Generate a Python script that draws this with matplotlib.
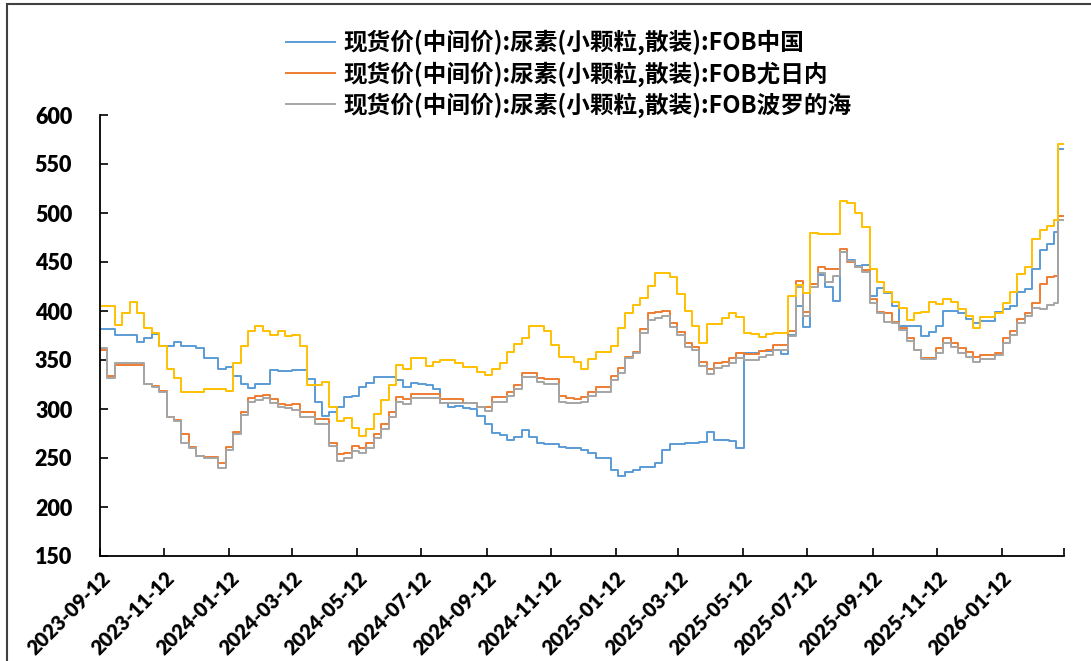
import matplotlib
matplotlib.use('Agg')
import matplotlib.pyplot as plt
import pandas as pd
from matplotlib.patches import Rectangle
from matplotlib.font_manager import FontProperties

plt.rcParams['font.family'] = ['Lato', 'Noto Sans CJK SC', 'DejaVu Sans']

# 周度数据, 2023-09-12 起; 最后两期为 2026-03-06 与 2026-03-11
dates = pd.date_range('2023-09-12', periods=130, freq='7D').append(
    pd.DatetimeIndex(['2026-03-06', '2026-03-11']))

fob_china = [
    382, 382, 376, 375.5, 375.5, 368, 372, 377, 364, 364,
    368, 364, 364, 362, 352, 352, 341, 343, 334, 325.5,
    321, 325.5, 325.5, 340, 339, 339, 340, 340, 331, 307.5,
    293, 297, 302, 312.6, 313.7, 322, 327, 333, 333, 333,
    330, 322, 327, 326, 324.5, 320, 306, 302, 303, 300.7,
    299.7, 293, 284.7, 275.8, 273.5, 268.4, 271.8, 278.6, 271.8, 265.6,
    264.3, 264.3, 261.6, 259.9, 259.9, 258.1, 255.4, 250.3, 250.3, 237.7,
    232, 235.4, 237.7, 241.1, 240.5, 245.2, 258, 264.3, 264.3, 265,
    265, 266, 276.8, 268.4, 268, 267.5, 260, 357.5, 357.5, 359.6,
    359.6, 360.3, 356.2, 375.6, 405.1, 384.1, 427.2, 436.8, 424.9, 410.6,
    460.6, 452.1, 446, 447, 415.3, 423.8, 418, 405.1, 385.1, 385.1,
    385.1, 375, 378.3, 385.1, 400.4, 400.4, 397.6, 392, 387.4, 390.2,
    390.2, 399.3, 402, 405.1, 419.7, 422.5, 442.5, 462.3, 468.4, 481,
    565, 565,
]

fob_yuzhny = [
    360, 334, 345, 345, 345, 345, 326, 323, 318, 292,
    289, 274.5, 261, 252, 250.7, 250.7, 245.3, 261, 277, 297,
    311, 313, 314.5, 310, 305, 304, 305, 297, 297, 290,
    290, 265, 253.6, 255, 262, 260, 265, 274.5, 285, 297,
    312.6, 310, 315, 315, 315, 315, 310, 310, 310, 306.5,
    306.5, 302.4, 302.4, 312.6, 312.6, 317.7, 324.5, 337, 337, 331.3,
    330.3, 330.3, 313.2, 311, 310, 312.6, 317.7, 322, 322, 333.6,
    341.5, 353.4, 358.5, 381.3, 397.6, 399.3, 400.3, 387.4, 379, 367.7,
    363.6, 348.3, 341, 347.3, 348.3, 351.7, 357.5, 356.2, 356.2, 359.6,
    360.3, 365.4, 365.4, 380, 430.6, 399.4, 427.6, 444.6, 442.6, 442.6,
    463.3, 450.4, 444.6, 442, 412, 399.3, 397.6, 389.1, 382.3, 372.1,
    360.2, 351.7, 351.7, 362.6, 372.1, 367.7, 361.9, 357.9, 353.4, 355.1,
    355.1, 357.5, 372.1, 380, 391.9, 398.3, 407.8, 427.6, 434.4, 436.1,
    497, 497,
]

fob_baltic = [
    362, 332, 347, 347, 347, 347, 326, 322, 317, 292,
    288, 265, 260, 252, 250, 250, 240, 258, 275, 294,
    307, 309, 311, 306, 302, 301, 299, 292, 292, 285,
    285, 262, 247, 250, 257, 255.5, 260, 270, 280, 292,
    307.5, 305, 311, 311, 311, 311, 306, 306, 306, 306.5,
    306.5, 302, 298, 307.5, 307.5, 313, 320, 333, 333, 328,
    325.5, 325.5, 307.5, 305.8, 305.8, 306.8, 313, 317.7, 317.7, 329.6,
    337, 351.7, 356.8, 378, 390.8, 392.5, 395, 384, 375.5, 363.6,
    360, 344, 336, 342, 344, 347, 352, 350, 350, 353,
    355, 360, 360, 375, 425, 395, 425, 439, 430, 436,
    460.6, 451, 445, 440, 408, 398.3, 389.1, 388.1, 380.6, 369.8,
    360.2, 350.7, 350.7, 357.5, 367.7, 363.6, 357.5, 352.7, 348.3, 350.7,
    350.7, 355.1, 367.7, 375.5, 388.1, 395, 402.7, 402, 406.1, 408.5,
    493, 493,
]

# 第四条序列(图例中未显示)
fob_other = [
    405, 405, 386, 398, 409.5, 398, 383, 378, 364, 341,
    332, 317, 317, 317, 320, 320, 320, 318, 347, 364,
    380, 385, 380, 376, 380, 375, 376, 364, 325, 325,
    328, 302, 288, 290.5, 281, 272, 280, 295, 309, 325,
    345, 340.5, 352, 352, 344, 348, 350, 350, 347, 342.5,
    342.5, 338, 335, 340.5, 346.6, 358.5, 366, 372, 384.7, 384.7,
    380, 365, 352.7, 352.7, 348, 340.5, 350.7, 358.5, 358.5, 364.6,
    383, 397.6, 406, 413, 425.5, 439, 439, 435, 417, 400,
    385, 367.7, 386.8, 386.8, 392.6, 397.7, 394.3, 377.3, 376.6, 373.2,
    376.6, 378, 378, 415.3, 426.6, 418, 479.3, 479, 478.5, 478.5,
    512.6, 510.6, 499.7, 486, 442.6, 430, 419.7, 409.5, 402.7, 390.8,
    397.6, 398.7, 409.5, 407.2, 412.3, 409.5, 402, 395.3, 383, 393.6,
    393.6, 398.3, 407.8, 419.7, 437.4, 445.3, 473.5, 482.7, 486.8, 492.9,
    570, 570,
]

labels = ['现货价(中间价):尿素(小颗粒,散装):FOB中国',
          '现货价(中间价):尿素(小颗粒,散装):FOB尤日内',
          '现货价(中间价):尿素(小颗粒,散装):FOB波罗的海']

tick_dates = pd.to_datetime([
    '2023-09-12', '2023-11-12', '2024-01-12', '2024-03-12', '2024-05-12',
    '2024-07-12', '2024-09-12', '2024-11-12', '2025-01-12', '2025-03-12',
    '2025-05-12', '2025-07-12', '2025-09-12', '2025-11-12', '2026-01-12',
    '2026-03-12'])
tick_labels = [d.strftime('%Y-%m-%d') for d in tick_dates[:-1]] + ['']


def main():
    fig = plt.figure(figsize=(10.91, 6.61), dpi=100)
    ax = fig.add_axes([100 / 1091, 1 - 556 / 661, 964 / 1091, 441 / 661])

    l1, = ax.plot(dates, fob_china, color='#5B9BD5', lw=1.4, drawstyle='steps-post')
    l2, = ax.plot(dates, fob_yuzhny, color='#ED7D31', lw=1.4, drawstyle='steps-post')
    l3, = ax.plot(dates, fob_baltic, color='#A5A5A5', lw=1.4, drawstyle='steps-post')
    ax.plot(dates, fob_other, color='#FFC000', lw=1.4, drawstyle='steps-post')

    ax.set_ylim(150, 600)
    ax.set_yticks(range(150, 601, 50))
    ax.set_xlim(tick_dates[0], tick_dates[-1])
    ax.set_xticks(tick_dates)
    ax.set_xticklabels(tick_labels, rotation=45, ha='right', va='top',
                       rotation_mode='anchor')

    for s in ['top', 'right']:
        ax.spines[s].set_visible(False)
    for s in ['left', 'bottom']:
        ax.spines[s].set_linewidth(1.3)
    ax.tick_params(axis='both', direction='in', length=6, width=1.2)
    ax.tick_params(axis='y', pad=20, labelsize=15.5)
    ax.tick_params(axis='x', pad=9, labelsize=14.5)
    for t in ax.get_xticklabels() + ax.get_yticklabels():
        t.set_fontweight('heavy')

    leg_font = FontProperties(family=['Noto Sans CJK SC', 'DejaVu Sans'],
                              weight='bold', size=17)
    fig.legend([l1, l2, l3], labels, loc='upper left',
               bbox_to_anchor=(274 / 1091, 1 - 18 / 661), frameon=False,
               prop=leg_font, borderpad=0, handlelength=2.1,
               handletextpad=0.34, labelspacing=0.23)

    # 外框
    fig.add_artist(Rectangle((7 / 1091, -0.1), 1.2, 1.1 - 4 / 661,
                             transform=fig.transFigure, fill=False,
                             ec='#404040', lw=1.5))

    fig.savefig('out.png', dpi=100)


if __name__ == '__main__':
    main()
